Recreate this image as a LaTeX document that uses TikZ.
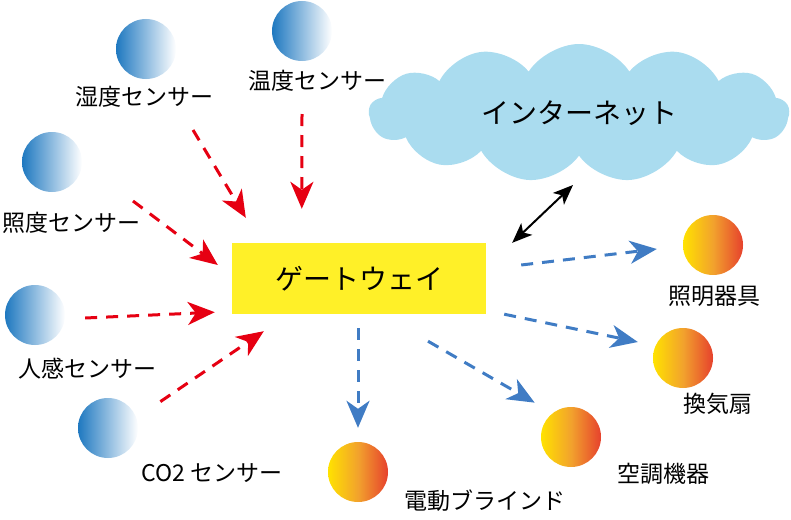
\documentclass[tikz,border=0pt]{standalone}
\usepackage{fontspec}
\setmainfont{Noto Sans CJK JP}
\usetikzlibrary{arrows.meta,shapes.symbols}
\definecolor{senseblue}{RGB}{30,120,192}
\definecolor{devyellow}{RGB}{255,226,0}
\definecolor{devmid}{RGB}{242,162,45}
\definecolor{devred}{RGB}{230,65,45}
\definecolor{gwyellow}{RGB}{255,240,40}
\definecolor{netblue}{RGB}{170,220,239}
\definecolor{inred}{RGB}{230,0,18}
\definecolor{outblue}{RGB}{64,124,196}
\tikzset{
  sensor/.style={circle, minimum size=60pt, inner sep=0pt, left color=senseblue, right color=white},
  device/.style={circle, minimum size=60pt, inner sep=0pt, left color=devyellow, right color=devred, middle color=devmid},
  lbl/.style={inner sep=0pt},
  bigtext/.style={font=\fontsize{28}{32}\selectfont},
  inarrow/.style={draw=inred, line width=3pt, dash pattern=on 12pt off 9pt, -{Stealth[length=27pt,width=23pt,inset=8pt]}},
  outarrow/.style={draw=outblue, line width=3pt, dash pattern=on 12pt off 9pt, -{Stealth[length=27pt,width=23pt,inset=8pt]}}
}
\begin{document}
\begin{tikzpicture}[x=1pt, y=-1pt, font=\fontsize{23}{27}\selectfont]
\useasboundingbox (0,0) rectangle (791,519);
% cloud and gateway
\node[cloud, cloud puffs=13, cloud puff arc=115, aspect=3, fill=netblue, minimum width=420pt, minimum height=138pt, bigtext] (net) at (579,113) {インターネット};
\node[fill=gwyellow, minimum width=254pt, minimum height=71pt, bigtext] (gw) at (359,278.5) {ゲートウェイ};

% sensors
\node[sensor] (hum) at (146,49) {};
\node[lbl] (lhum) at (144,97) {湿度センサー};
\node[sensor] (tmp) at (302,31) {};
\node[lbl] (ltmp) at (317,81) {温度センサー};
\node[sensor] (lux) at (52,162) {};
\node[lbl] (llux) at (71,223) {照度センサー};
\node[sensor] (mot) at (35,315) {};
\node[lbl] (lmot) at (87,369) {人感センサー};
\node[sensor] (co2) at (108,428) {};
\node[lbl] (lco2) at (212,473) {CO2 センサー};

% devices
\node[device] (lamp) at (713,245) {};
\node[lbl] (llamp) at (714,296) {照明器具};
\node[device] (fan) at (683,358) {};
\node[lbl] (lfan) at (718,404) {換気扇};
\node[device] (ac) at (571,437) {};
\node[lbl] (lac) at (663,474) {空調機器};
\node[device] (bld) at (358,472) {};
\node[lbl] (lbld) at (485,501) {電動ブラインド};

% sensors to gateway
\draw[inarrow] ([shift={(49,33)}]lhum.center) -- ([shift={(14,-25)}]gw.north west);
\draw[inarrow] ([shift={(-15,33)}]ltmp.center) -- ([shift={(70,-34)}]gw.north west);
\draw[inarrow] ([shift={(62,-22)}]llux.center) -- ([shift={(-14,-13.5)}]gw.west);
\draw[inarrow] ([shift={(20,3)}]mot.east) -- ([shift={(-17,-2)}]gw.south west);
\draw[inarrow] ([shift={(31,-5)}]co2.north east) -- ([shift={(32,17)}]gw.south west);

% gateway and internet
\draw[line width=2pt, {Stealth[length=20pt,width=16pt,inset=5pt]}-{Stealth[length=20pt,width=16pt,inset=5pt]}] ([shift={(26,0)}]gw.north east) -- ([shift={(-6,72)}]net.center);

% gateway to devices
\draw[outarrow] ([shift={(35,-13.5)}]gw.east) -- ([shift={(-26,4)}]lamp.west);
\draw[outarrow] ([shift={(18,0)}]gw.south east) -- ([shift={(-15,-16)}]fan.west);
\draw[outarrow] ([shift={(69,27)}]gw.south) -- ([shift={(-15,-13)}]ac.north west);
\draw[outarrow] ([shift={(-1,14)}]gw.south) -- ([shift={(0,-14)}]bld.north);
\end{tikzpicture}
\end{document}
